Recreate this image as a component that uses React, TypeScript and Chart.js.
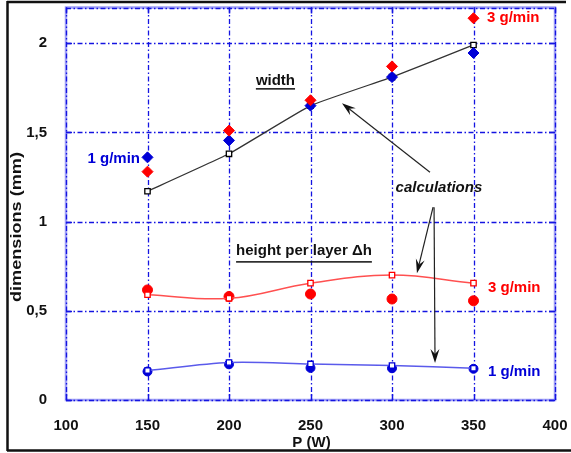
import React, { useEffect, useRef } from "react";
import { Chart, registerables } from "chart.js";
Chart.register(...registerables);

// ---- data ----
const powerW = [150, 200, 250, 300, 350];
const widthCalc = [1.17, 1.38, 1.65, 1.81, 1.99];
const width3gmin = [1.28, 1.51, 1.68, 1.87, 2.14];
const width1gmin = [1.36, 1.455, 1.65, 1.81, 1.945];
const heightCalc3 = [0.59, 0.57, 0.655, 0.7, 0.655];
const height3gmin = [0.617, 0.58, 0.594, 0.566, 0.556];
const heightCalc1 = [0.165, 0.21, 0.202, 0.193, 0.178];
const height1gmin = [0.16, 0.2, 0.18, 0.178, 0.175];
const xTicks = [100, 150, 200, 250, 300, 350, 400];
const yTicks = [0, 0.5, 1, 1.5, 2];
const xRange = [100, 400];
const yRange = [0, 2.2];

const FONT = "'Liberation Sans', Arial, Helvetica, sans-serif";
const RED = "rgb(255,0,0)";
const BLUE = "rgb(0,0,215)";

const pts = (ys: number[]) => powerW.map((x, i) => ({ x, y: ys[i] }));

function drawArrow(ctx: CanvasRenderingContext2D, x1: number, y1: number, x2: number, y2: number) {
  const ang = Math.atan2(y2 - y1, x2 - x1);
  const L = 14, W = 4.5, N = 9;
  ctx.beginPath();
  ctx.moveTo(x1, y1);
  ctx.lineTo(x2 - Math.cos(ang) * N, y2 - Math.sin(ang) * N);
  ctx.stroke();
  ctx.beginPath();
  ctx.moveTo(x2, y2);
  ctx.lineTo(x2 - Math.cos(ang) * L - Math.sin(ang) * W, y2 - Math.sin(ang) * L + Math.cos(ang) * W);
  ctx.lineTo(x2 - Math.cos(ang) * N, y2 - Math.sin(ang) * N);
  ctx.lineTo(x2 - Math.cos(ang) * L + Math.sin(ang) * W, y2 - Math.sin(ang) * L - Math.cos(ang) * W);
  ctx.closePath();
  ctx.fill();
}

const gridPlugin = {
  id: "customGrid",
  beforeDatasetsDraw(chart: any) {
    const ctx: CanvasRenderingContext2D = chart.ctx;
    const { left, right, top, bottom } = chart.chartArea;
    const xs = chart.scales.x, ys = chart.scales.y;
    ctx.save();
    ctx.strokeStyle = "rgba(150,150,245,0.9)";
    ctx.lineWidth = 2.5;
    ctx.strokeRect(left, top, right - left, bottom - top);
    ctx.strokeStyle = "rgb(20,20,225)";
    ctx.lineWidth = 1.3;
    ctx.setLineDash([5, 2.5, 1.5, 2.5]);
    const xv = xTicks;
    const yv = [...yTicks, yRange[1]];
    for (const v of xv) {
      const p = Math.round(xs.getPixelForValue(v)) + 0.5;
      ctx.beginPath(); ctx.moveTo(p, top); ctx.lineTo(p, bottom); ctx.stroke();
    }
    for (const v of yv) {
      const p = Math.round(ys.getPixelForValue(v)) + 0.5;
      ctx.beginPath(); ctx.moveTo(left, p); ctx.lineTo(right, p); ctx.stroke();
    }
    ctx.setLineDash([]);
    ctx.lineWidth = 1.5;
    const tl = 6;
    for (const v of xv) {
      const p = Math.round(xs.getPixelForValue(v)) + 0.5;
      ctx.beginPath(); ctx.moveTo(p, top); ctx.lineTo(p, top + tl); ctx.stroke();
      ctx.beginPath(); ctx.moveTo(p, bottom); ctx.lineTo(p, bottom - tl); ctx.stroke();
    }
    for (const v of yTicks) {
      const p = Math.round(ys.getPixelForValue(v)) + 0.5;
      ctx.beginPath(); ctx.moveTo(left, p); ctx.lineTo(left + tl, p); ctx.stroke();
      ctx.beginPath(); ctx.moveTo(right, p); ctx.lineTo(right - tl, p); ctx.stroke();
    }
    ctx.restore();
  },
  afterDraw(chart: any) {
    const ctx: CanvasRenderingContext2D = chart.ctx;
    const xs = chart.scales.x, ys = chart.scales.y;
    const X = (v: number) => xs.getPixelForValue(v);
    const Y = (v: number) => ys.getPixelForValue(v);
    const { left, right } = chart.chartArea;
    ctx.save();
    ctx.strokeStyle = "#111";
    ctx.lineWidth = 2.5;
    ctx.beginPath(); ctx.moveTo(7, 2); ctx.lineTo(566, 2); ctx.stroke();
    ctx.beginPath(); ctx.moveTo(7.5, 1); ctx.lineTo(7.5, 451); ctx.stroke();
    ctx.beginPath(); ctx.moveTo(7, 450.5); ctx.lineTo(571, 450.5); ctx.stroke();

    ctx.fillStyle = "#111";
    ctx.font = `bold 15px ${FONT}`;
    ctx.textAlign = "center";
    ctx.textBaseline = "middle";
    ctx.fillText("P (W)", (left + right) / 2 + 1, 443);
    ctx.save();
    ctx.translate(17, 227);
    ctx.rotate(-Math.PI / 2);
    const t = "dimensions (mm)";
    const w = ctx.measureText(t).width;
    ctx.scale(150 / w, 1);
    ctx.fillText(t, 0, 0);
    ctx.restore();

    ctx.textBaseline = "alphabetic";
    ctx.textAlign = "center";
    ctx.font = `bold 15px ${FONT}`;
    const under = (txt: string, cx: number, by: number, uy: number) => {
      ctx.fillText(txt, cx, by);
      const tw = ctx.measureText(txt).width;
      ctx.fillRect(cx - tw / 2, uy, tw, 1.5);
    };
    under("width", X(228.5), Y(1.765), Y(1.765) + 3);
    under("height per layer \u0394h", X(246), Y(0.812), Y(0.812) + 6);

    ctx.font = `italic bold 15px ${FONT}`;
    ctx.fillText("calculations", X(328.8), Y(1.165));

    ctx.font = `bold 15px ${FONT}`;
    ctx.fillStyle = BLUE;
    ctx.textAlign = "right";
    ctx.fillText("1 g/min", X(145.4), Y(1.328));
    ctx.textAlign = "left";
    ctx.fillText("1 g/min", X(358.9), Y(0.134));
    ctx.fillStyle = RED;
    ctx.fillText("3 g/min", X(358.3), Y(2.118));
    ctx.fillText("3 g/min", X(358.9), Y(0.605));

    ctx.strokeStyle = "#222";
    ctx.fillStyle = "#111";
    ctx.lineWidth = 1.2;
    drawArrow(ctx, X(323.3), Y(1.277), X(269.3), Y(1.664));
    drawArrow(ctx, X(325.2), Y(1.081), X(315.3), Y(0.711));
    drawArrow(ctx, X(325.8), Y(1.081), X(326.4), Y(0.207));
    ctx.restore();
  },
};

export default function App() {
  const ref = useRef<HTMLCanvasElement | null>(null);
  useEffect(() => {
    if (!ref.current) return;
    const calc = (ys: number[], line: string, pt: string, tension: number, lw: number) => ({
      data: pts(ys),
      showLine: true,
      borderColor: line,
      borderWidth: lw,
      tension,
      pointStyle: "rect",
      pointRadius: 3.8,
      pointBackgroundColor: "#fff",
      pointBorderColor: pt,
      pointBorderWidth: 1.3,
    });
    const meas = (ys: number[], color: string, style: string, r: number) => ({
      data: pts(ys),
      showLine: false,
      pointStyle: style,
      pointRadius: r,
      pointBackgroundColor: color,
      pointBorderColor: color,
      pointBorderWidth: 1,
    });
    // dataset 0 is drawn on top
    const chart = new Chart(ref.current, {
      type: "scatter",
      data: {
        datasets: [
          meas(width3gmin, RED, "rectRot", 5.5),
          meas(width1gmin, BLUE, "rectRot", 5.5),
          calc(widthCalc, "#333", "#000", 0.1, 1.3),
          calc(heightCalc3, "rgb(255,80,80)", RED, 0.4, 1.5),
          calc(heightCalc1, "rgb(90,90,235)", BLUE, 0.3, 1.5),
          meas(height3gmin, RED, "circle", 5),
          meas(height1gmin, BLUE, "circle", 4.5),
        ] as any,
      },
      options: {
        responsive: false,
        animation: false,
        devicePixelRatio: 1,
        layout: { padding: { left: 0, right: 16, top: 7.5, bottom: 0 } },
        plugins: { legend: { display: false }, tooltip: { enabled: false } },
        scales: {
          x: {
            type: "linear",
            min: xRange[0],
            max: xRange[1],
            grid: { display: false },
            border: { display: false },
            afterBuildTicks: (s: any) => { s.ticks = xTicks.map((v) => ({ value: v })); },
            afterFit: (s: any) => { s.height = 53; s.paddingLeft = 0; s.paddingRight = 0; },
            ticks: {
              color: "#111",
              padding: 9,
              maxRotation: 0,
              font: { family: FONT, size: 15, weight: "bold" },
              callback: (v: any) => String(v),
            },
          },
          y: {
            type: "linear",
            min: yRange[0],
            max: yRange[1],
            grid: { display: false },
            border: { display: false },
            afterBuildTicks: (s: any) => { s.ticks = yTicks.map((v) => ({ value: v })); },
            afterFit: (s: any) => { s.width = 66; s.paddingTop = 0; s.paddingBottom = 0; },
            ticks: {
              color: "#111",
              padding: 11,
              font: { family: FONT, size: 15, weight: "bold" },
              callback: (v: any) => String(v).replace(".", ","),
            },
          },
        },
      } as any,
      plugins: [gridPlugin],
    });
    return () => chart.destroy();
  }, []);
  return (
    <div style={{ position: "fixed", left: 0, top: 0, width: 571, height: 453, background: "#fff" }}>
      <canvas ref={ref} width={571} height={453} style={{ display: "block" }} />
    </div>
  );
}
